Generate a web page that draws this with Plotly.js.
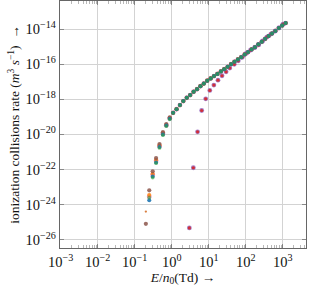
<!DOCTYPE html>
<html>
<head>
<meta charset="utf-8">
<script src="https://cdn.plot.ly/plotly-3.0.1.min.js"></script>
<style>html,body{margin:0;padding:0;background:#fff;}#chart{width:309px;height:291px;}</style>
</head>
<body>
<div id="chart"></div>
<script>
// Reduced field E/n0 (Td) for the main group of series
const mainX = [0.2, 0.247, 0.306, 0.378, 0.467, 0.578, 0.714, 0.883, 1.09, 1.35, 1.67, 2.06, 2.55, 3.16, 3.9, 4.83, 5.97, 7.38, 9.12, 11.3, 13.9, 17.2, 21.3, 26.3, 32.5, 40.2, 49.7, 61.5, 76.0, 94.0, 116, 144, 178, 220, 272, 336, 415, 514, 635, 785, 970, 1200];
// low-field values per series (first 8 points)
const brownHead  = [8.1e-26, 6.5e-24, 7.9e-23, 4.5e-22, 2.8e-21, 1.35e-20, 3.9e-20, 9.3e-20];
const orangeHead = [null, 3.5e-24, 5.6e-23, 3.5e-22, 2.4e-21, 1.2e-20, 3.5e-20, 8.7e-20];
const pinkHead   = [null, 2.8e-24, 5.0e-23, 3.2e-22, 2.1e-21, 1.1e-20, 3.3e-20, 8.3e-20];
const greenHead  = [null, 2.5e-24, 3.5e-23, 2.3e-22, 1.7e-21, 9.1e-21, 2.95e-20, 7.2e-20];
const blueHead   = [null, 1.8e-24, 4.0e-23, 2.5e-22, 1.9e-21, 1.0e-20, 3.2e-20, 7.9e-20];
// common values of the main group (points 9..42)
const mainTail = [1.7e-19, 2.75e-19, 4.7e-19, 7.9e-19, 1.23e-18, 1.74e-18, 2.7e-18, 3.8e-18, 5.6e-18, 7.9e-18, 1.15e-17, 1.55e-17, 2.1e-17, 2.8e-17, 3.9e-17, 5.2e-17, 7.1e-17, 1.0e-16, 1.38e-16, 1.86e-16, 2.5e-16, 3.6e-16, 4.9e-16, 6.9e-16, 9.3e-16, 1.35e-15, 1.9e-15, 2.8e-15, 4.0e-15, 5.6e-15, 7.9e-15, 1.15e-14, 1.6e-14, 2.2e-14];
// extra small orange point
const orangeSmallX = [0.2];
const orangeSmallY = [4.0e-25];
// deviating series (red / purple)
const outX = [3.0, 3.84, 5.0, 6.46, 8.3, 10.7, 13.8, 17.8, 22.9, 29.5, 37.2, 49, 63, 81, 105, 135, 174, 224, 288, 372, 479, 617, 794, 1023];
const outY = [4.7e-26, 1.26e-22, 1.41e-20, 2.3e-19, 1.07e-18, 3.2e-18, 6.5e-18, 1.23e-17, 2.2e-17, 3.7e-17, 6.0e-17, 9.8e-17, 1.55e-16, 2.45e-16, 4.2e-16, 6.3e-16, 8.7e-16, 1.26e-15, 2.1e-15, 3.5e-15, 5.2e-15, 7.6e-15, 1.17e-14, 1.9e-14];
// tick labels
const xTickVals = [1e-3, 1e-2, 1e-1, 1, 10, 100, 1000];
const xTickText = ['10<sup>−3</sup>', '10<sup>−2</sup>', '10<sup>−1</sup>', '10<sup>0</sup>', '10<sup>1</sup>', '10<sup>2</sup>', '10<sup>3</sup>'];
const yTickVals = [1e-26, 1e-24, 1e-22, 1e-20, 1e-18, 1e-16, 1e-14];
const yTickText = ['10<sup>−26</sup>', '10<sup>−24</sup>', '10<sup>−22</sup>', '10<sup>−20</sup>', '10<sup>−18</sup>', '10<sup>−16</sup>', '10<sup>−14</sup>'];

function sc(x, y, color, size, op) {
  return {x: x, y: y, type: 'scatter', mode: 'markers', showlegend: false, hoverinfo: 'skip',
          marker: {color: color, size: size, opacity: op === undefined ? 0.85 : op, line: {width: 0}}};
}
const traces = [
  sc(mainX, pinkHead.concat(mainTail), '#e377c2', 4.8, 0.8),
  sc(mainX, orangeHead.concat(mainTail), '#ff7f0e', 4.2),
  sc(orangeSmallX, orangeSmallY, '#d2691e', 2.3),
  sc(mainX, brownHead.concat(mainTail), '#8c564b', 4.2),
  sc(outX, outY, '#9467bd', 4.8),
  sc(outX, outY, '#d62728', 3.2, 0.9),
  sc(mainX, blueHead.concat(mainTail), '#1f77b4', 4.0, 0.9),
  sc(mainX, greenHead.concat(mainTail), '#2ca02c', 3.8, 0.55),
  {x: [], y: [], xaxis: 'x2', type: 'scatter', mode: 'markers', showlegend: false}
];

const font = {family: '"Liberation Serif", "Times New Roman", serif', size: 14.5, color: '#111'};
const titleFont = {family: '"Liberation Serif", "Times New Roman", serif', size: 13.5, color: '#111'};
const axisCommon = {
  type: 'log', showline: true, linecolor: '#666', linewidth: 1.2,
  ticks: 'inside', ticklen: 4, tickcolor: '#777', tickwidth: 0.8,
  showgrid: true, gridcolor: '#d3d3d3', gridwidth: 1, zeroline: false,
  tickfont: font
};
const minorX = {ticks: 'inside', ticklen: 3, tickcolor: '#888', tickwidth: 0.6, showgrid: false, dtick: 'D1'};
const layout = {
  width: 309, height: 291,
  margin: {l: 60, r: 3, t: 1, b: 43},
  paper_bgcolor: '#fff', plot_bgcolor: '#fff',
  font: font,
  xaxis: Object.assign({}, axisCommon, {
    range: [-3.02, 3.63], tickmode: 'array', tickvals: xTickVals, ticktext: xTickText, mirror: true,
    minor: minorX,
    title: {text: '<i>E</i>/<i>n</i><sub>0</sub>(Td) →', font: titleFont, standoff: 3}
  }),
  xaxis2: {
    type: 'log', overlaying: 'x', side: 'top', range: [-3.02, 3.63], tickmode: 'array', tickvals: xTickVals,
    showticklabels: false, showgrid: false, zeroline: false, showline: false,
    ticks: 'inside', ticklen: 4, tickcolor: '#777', tickwidth: 0.8, minor: minorX
  },
  yaxis: Object.assign({}, axisCommon, {
    range: [-26.47, -12.40], tickmode: 'array', tickvals: yTickVals, ticktext: yTickText, mirror: 'ticks',
    title: {text: 'ionization collisions rate (<i>m</i><sup>3</sup> <i>s</i><sup>−1</sup>)  →', font: titleFont, standoff: 2}
  })
};
Plotly.newPlot('chart', traces, layout, {staticPlot: true, displayModeBar: false});
</script>
</body>
</html>
